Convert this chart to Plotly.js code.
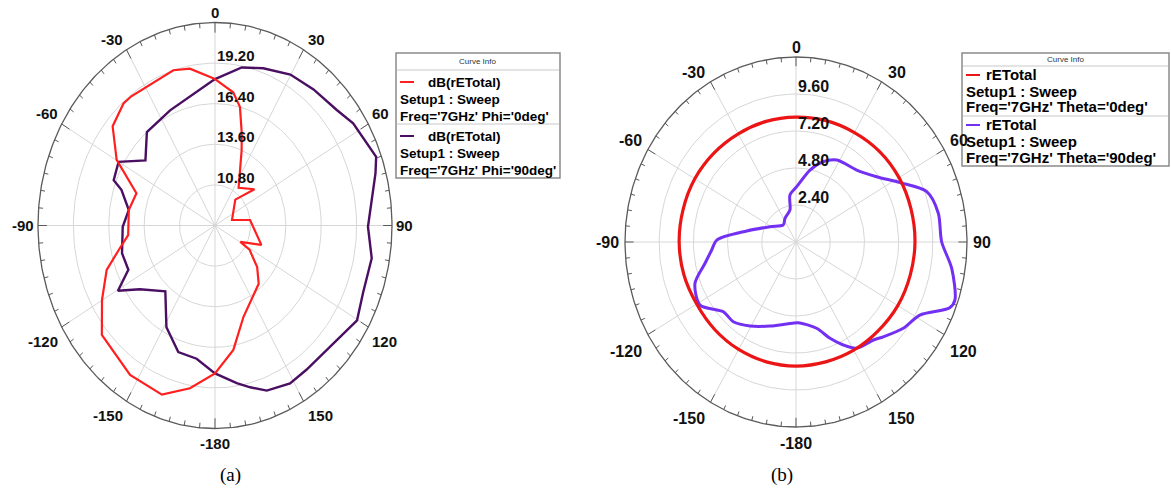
<!DOCTYPE html>
<html><head><meta charset="utf-8">
<script src="https://cdn.plot.ly/plotly-3.0.1.min.js"></script>
<style>html,body{margin:0;padding:0;background:#fff}#chart{width:1171px;height:501px}</style>
</head><body><div id="chart"></div>
<script>
// ---------- (a) dB(rETotal), 7 GHz : angle (deg) / value (dB) ----------
const thetaA_phi0 = [0, 8.9, 13.6, 18.4, 22.1, 35.7, 51.3, 42, 74, 82.2, 110, 119.5, 121.4, 130.7, 139.3, 160.4, 170.4, 180, -170, -160.2, -146.9, -135.2, -130.1, -119.8, -109.7, -102.5, -95.5, -81.1, -70.3, -59.8, -49.8, -40.7, -36.6, -17.1, -10.4, 0];
const rA_phi0     = [18.1, 17.3, 16.4, 14.7, 13.6, 11.2, 12.0, 10.4, 9.4, 10.8, 11.9, 10.3, 11.2, 12.4, 13.3, 14.7, 16.7, 18.2, 19.4, 20.4, 20.3, 19.8, 19.7, 18.3, 17.1, 15.8, 14.9, 14.9, 14.6, 17.0, 18.6, 19.1, 19.1, 19.2, 19.0, 18.1];
const thetaA_phi90 = [0, 11, 19.4, 29.8, 39.7, 50.4, 57.2, 69.6, 74.1, 81.9, 90.4, 100.3, 111.7, 120.2, 124.7, 134.2, 144, 151.4, 160.2, 166, 171, 180, -171, -161.6, -151.3, -139.1, -126.5, -120.4, -114, -104.6, -90.7, -81.1, -71.6, -68.7, -60.1, -50.8, -39.9, -24.1, 0];
const rA_phi90     = [18.1, 19.1, 19.5, 20.0, 20.2, 20.5, 21.0, 21.6, 21.2, 20.5, 20.1, 20.6, 20.6, 21.0, 20.7, 20.3, 20.3, 20.4, 20.1, 19.5, 19.0, 18.2, 17.3, 17.2, 16.0, 14.0, 15.4, 16.9, 15.5, 15.6, 15.3, 14.9, 15.8, 16.6, 16.8, 15.1, 16.4, 16.7, 18.1];
const rTicksA = [10.80, 13.60, 16.40, 19.20];
const rRangeA = [8.0, 22.0];

// ---------- (b) rETotal, 7 GHz ----------
const thetaB_theta0 = [0, 15, 30, 45, 60, 75, 90, 105, 120, 135, 150, 165, 180, -165, -150, -135, -120, -105, -90, -75, -60, -45, -30, -15, 0];
const rB_theta0     = [8.1, 8.15, 8.2, 8.3, 8.35, 8.35, 8.35, 8.3, 8.25, 8.15, 8.1, 8.05, 8.05, 8.05, 8.05, 8.05, 8.05, 8.15, 8.2, 8.2, 8.2, 8.15, 8.1, 8.1, 8.1];
const thetaB_theta90 = [-88.7, -78.3, -61.4, -38.9, -26.7, -11.5, -7.9, 0.8, 11.9, 20.2, 28.3, 42.4, 53.2, 62.2, 70.4, 79.4, 89.9, 98.9, 108.6, 111.6, 118.6, 126.6, 135.1, 139.5, 148.3, 153.6, 159.1, 165.5, 178.2, -173, -161.5, -149.4, -139.6, -131.6, -121.3, -110.7, -102.2, -95, -88.7];
const rB_theta90     = [5.56, 3.53, 2.08, 1.42, 1.72, 2.12, 3.08, 3.59, 4.77, 5.55, 6.04, 6.32, 7.07, 8.25, 9.74, 10.16, 10.22, 11.06, 11.77, 11.6, 9.9, 9.38, 8.68, 8.36, 8.1, 7.46, 6.69, 5.78, 5.24, 5.36, 5.75, 6.33, 6.79, 6.82, 7.88, 7.58, 6.53, 5.94, 5.56];
const rTicksB = [2.40, 4.80, 7.20, 9.60];
const rRangeB = [0.0, 12.0];

const angleTicks = [0, 30, 60, 90, 120, 150, 180, -150, -120, -90, -60, -30];
const angleLabels = ['0', '30', '60', '90', '120', '150', '-180', '-150', '-120', '-90', '-60', '-30'];

const legendA = {header: 'Curve Info', entries: [
  ['dB(rETotal)', 'Setup1 : Sweep', "Freq='7GHz' Phi='0deg'"],
  ['dB(rETotal)', 'Setup1 : Sweep', "Freq='7GHz' Phi='90deg'"]]};
const legendB = {header: 'Curve Info', entries: [
  ['rETotal', 'Setup1 : Sweep', "Freq='7GHz' Theta='0deg'"],
  ['rETotal', 'Setup1 : Sweep', "Freq='7GHz' Theta='90deg'"]]};

// ---------- polar -> elliptical projection (0 deg at top, clockwise) ----------
const D = Math.PI / 180;
function project(thetas, rs, range) {
  const x = [], y = [];
  thetas.forEach((t, i) => {
    const rho = (rs[i] - range[0]) / (range[1] - range[0]);
    x.push(rho * Math.sin(t * D)); y.push(rho * Math.cos(t * D));
  });
  return {x, y};
}
function gridTraces(xa, ya) {
  const gx = [], gy = [];
  [0.2, 0.4, 0.6, 0.8].forEach(r => {
    for (let a = 0; a <= 360; a += 2) { gx.push(r * Math.sin(a * D)); gy.push(r * Math.cos(a * D)); }
    gx.push(null); gy.push(null);
  });
  for (let a = 0; a < 360; a += 30) { gx.push(0, Math.sin(a * D)); gy.push(0, Math.cos(a * D)); gx.push(null); gy.push(null); }
  const ox = [], oy = [];
  for (let a = 0; a <= 360; a += 1) { ox.push(Math.sin(a * D)); oy.push(Math.cos(a * D)); }
  const tx = [], ty = [];
  for (let a = 0; a < 360; a += 5) {
    const L = (a % 30 === 0) ? 0.05 : 0.025;
    tx.push(Math.sin(a * D), (1 - L) * Math.sin(a * D), null);
    ty.push(Math.cos(a * D), (1 - L) * Math.cos(a * D), null);
  }
  const base = {type: 'scatter', mode: 'lines', xaxis: xa, yaxis: ya, hoverinfo: 'skip', showlegend: false};
  return [
    Object.assign({}, base, {x: gx, y: gy, line: {color: '#d6d6d6', width: 1}}),
    Object.assign({}, base, {x: ox, y: oy, line: {color: '#5a5a5a', width: 1.3}}),
    Object.assign({}, base, {x: tx, y: ty, line: {color: '#5a5a5a', width: 1}})
  ];
}
function curve(thetas, rs, range, color, width, xa, ya, name, shape) {
  const p = project(thetas, rs, range);
  return {type: 'scatter', mode: 'lines', x: p.x, y: p.y, xaxis: xa, yaxis: ya, name: name,
    showlegend: false, line: {color: color, width: width, shape: shape || 'linear', smoothing: 0.8}};
}

const traces = [].concat(
  gridTraces('x', 'y'),
  [curve(thetaA_phi90, rA_phi90, rRangeA, '#4a0f62', 2.4, 'x', 'y', "dB(rETotal) Phi='90deg'"),
   curve(thetaA_phi0, rA_phi0, rRangeA, '#ff1f1f', 2.2, 'x', 'y', "dB(rETotal) Phi='0deg'")],
  gridTraces('x2', 'y2'),
  [curve(thetaB_theta90, rB_theta90, rRangeB, '#7330f2', 3, 'x2', 'y2', "rETotal Theta='90deg'", 'spline'),
   curve(thetaB_theta0, rB_theta0, rRangeB, '#ec1515', 3.2, 'x2', 'y2', "rETotal Theta='0deg'", 'spline')]
);

const annotations = [];
function polarLabels(xr, yr, rTicks, range, gx, gUp, gDown, fs) {
  const tickFont = {family: 'Liberation Sans, Arial, sans-serif', size: fs, color: '#111'};
  angleTicks.forEach((a, i) => {
    const s = Math.sin(a * D), c = Math.cos(a * D);
    const xa = s > 0.01 ? 'left' : (s < -0.01 ? 'right' : 'center');
    const ya = c > 0.01 ? 'bottom' : (c < -0.01 ? 'top' : 'middle');
    annotations.push({xref: xr, yref: yr, x: s, y: c, text: '<b>' + angleLabels[i] + '</b>', showarrow: false,
      font: tickFont, xanchor: xa, yanchor: ya, borderpad: 0,
      xshift: s > 0.01 ? gx : (s < -0.01 ? -gx : 0), yshift: c > 0.01 ? gUp : (c < -0.01 ? -gDown : 0)});
  });
  rTicks.forEach(v => {
    const rho = (v - range[0]) / (range[1] - range[0]);
    annotations.push({xref: xr, yref: yr, x: 0, y: rho, text: '<b>' + v.toFixed(2) + '</b>', showarrow: false,
      font: tickFont, xanchor: 'left', yanchor: 'bottom', xshift: 0, yshift: -3});
  });
}
polarLabels('x', 'y', rTicksA, rRangeA, 3, 1, 5, 15);
polarLabels('x2', 'y2', rTicksB, rRangeB, 5, 0, 7, 16);

// ---------- legend boxes (HFSS "Curve Info") ----------
const W = 1171, H = 501;
const px = v => v / W, py = v => 1 - v / H;
const shapes = [];
function legendBox(lg, o, colors) {
  const legFont = {family: 'Liberation Sans, Arial, sans-serif', size: o.fs, color: '#000'};
  const bottom = o.y0 + o.headH + 2 * (o.pad + 2 * o.lh + o.after);
  shapes.push({type: 'rect', xref: 'paper', yref: 'paper', x0: px(o.x0), x1: px(o.x1), y0: py(o.y0), y1: py(bottom),
    line: {color: '#8a8a8a', width: 1.5}, fillcolor: '#ffffff', layer: 'above'});
  annotations.push({xref: 'paper', yref: 'paper', x: px((o.x0 + o.x1) / 2), y: py(o.y0 + o.headH / 2), text: lg.header,
    showarrow: false, font: {family: 'Liberation Sans, Arial, sans-serif', size: 8, color: '#333'}, xanchor: 'center', yanchor: 'middle'});
  let y = o.y0 + o.headH;
  lg.entries.forEach((e, k) => {
    shapes.push({type: 'line', xref: 'paper', yref: 'paper', x0: px(o.x0 + 1), x1: px(o.x1 - 1), y0: py(y), y1: py(y),
      line: {color: '#c8c8c8', width: 1}, layer: 'above'});
    const l1 = y + o.pad;
    shapes.push({type: 'line', xref: 'paper', yref: 'paper', x0: px(o.x0 + 4), x1: px(o.x0 + 18), y0: py(l1), y1: py(l1),
      line: {color: colors[k], width: 2}, layer: 'above'});
    annotations.push({xref: 'paper', yref: 'paper', x: px(o.x0 + o.indent), y: py(l1), text: '<b>' + e[0] + '</b>', showarrow: false,
      font: legFont, xanchor: 'left', yanchor: 'middle'});
    annotations.push({xref: 'paper', yref: 'paper', x: px(o.x0 + 2), y: py(l1 + o.lh), text: '<b>' + e[1] + '</b>', showarrow: false,
      font: legFont, xanchor: 'left', yanchor: 'middle'});
    annotations.push({xref: 'paper', yref: 'paper', x: px(o.x0 + 2), y: py(l1 + 2 * o.lh), text: '<b>' + e[2] + '</b>', showarrow: false,
      font: legFont, xanchor: 'left', yanchor: 'middle'});
    y = l1 + 2 * o.lh + o.after;
  });
}
legendBox(legendA, {x0: 396, x1: 560, y0: 53, headH: 17, pad: 12, lh: 17, after: 8, fs: 13.5, indent: 30}, ['#ff1f1f', '#4a0f62']);
legendBox(legendB, {x0: 962, x1: 1169, y0: 53, headH: 13, pad: 9, lh: 16, after: 9, fs: 15, indent: 22}, ['#ec1515', '#7330f2']);

annotations.push({xref: 'paper', yref: 'paper', x: px(218), y: py(488), text: '(a)', showarrow: false,
  font: {family: 'Liberation Serif, Times New Roman, serif', size: 19, color: '#000'}});
annotations.push({xref: 'paper', yref: 'paper', x: px(795), y: py(488), text: '(b)', showarrow: false,
  font: {family: 'Liberation Serif, Times New Roman, serif', size: 19, color: '#000'}});

// axes: outer ring (rho = 1) lands on the reference's elliptical frame
const ax = (dom, rng) => ({domain: dom, range: rng, visible: false, showgrid: false, zeroline: false, fixedrange: true});
const layout = {
  width: W, height: H, margin: {l: 0, r: 0, t: 0, b: 0},
  paper_bgcolor: '#fff', plot_bgcolor: 'rgba(0,0,0,0)', showlegend: false,
  xaxis: ax([px(215 - 1.2 * 177), px(215 + 1.2 * 177)], [-1.2, 1.2]),
  yaxis: ax([1 - (225.5 + 1.2 * 203) / H, 1 - (225.5 - 1.1 * 203) / H], [-1.2, 1.1]),
  xaxis2: ax([px(796 - 1.2 * 171), px(796 + 1.2 * 171)], [-1.2, 1.2]),
  yaxis2: ax([1 - (242 + 1.2 * 185) / H, 1 - (242 - 1.15 * 185) / H], [-1.2, 1.15]),
  annotations: annotations, shapes: shapes
};
Plotly.newPlot('chart', traces, layout, {staticPlot: true, displayModeBar: false});
</script></body></html>
